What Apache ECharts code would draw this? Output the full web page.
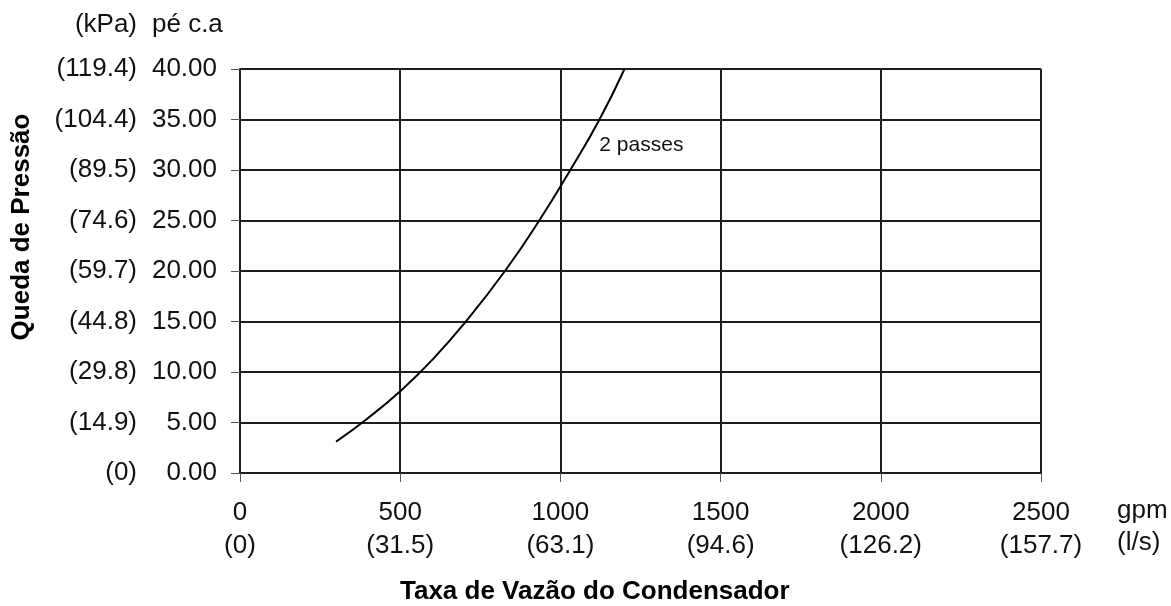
<!DOCTYPE html>
<html>
<head>
<meta charset="utf-8">
<script src="https://cdn.jsdelivr.net/npm/echarts@6/dist/echarts.min.js"></script>
<style>
  html, body { margin: 0; padding: 0; background: #fff; }
  #chart { width: 1171px; height: 606px; }
</style>
</head>
<body>
<div id="chart"></div>
<script>
  // flow (gpm) vs pressure drop (ft of water)
  const flowGpm = [300, 400, 500, 600, 705, 827, 934, 1031, 1122, 1200]
  const dropFt = [3.1, 5.45, 8.1, 11.2, 15.0, 20.0, 25.0, 30.0, 35.0, 40.0]

  const xTicks = [0, 500, 1000, 1500, 2000, 2500]
  const xTicksLs = ['(0)', '(31.5)', '(63.1)', '(94.6)', '(126.2)', '(157.7)']
  const yTicks = [0, 5, 10, 15, 20, 25, 30, 35, 40]
  const yTicksKpa = ['(0)', '(14.9)', '(29.8)', '(44.8)', '(59.7)', '(74.6)', '(89.5)', '(104.4)', '(119.4)']

  const curveName = '2 passes'
  const labelAt = [1120, 32.5]

  const font = 'Liberation Sans, Arial, sans-serif'
  const gridColor = '#1e1e1e'
  const fs = 26

  const chart = echarts.init(document.getElementById('chart'))

  chart.setOption({
    animation: false,
    textStyle: { fontFamily: font },
    grid: { left: 240, right: 130, top: 69, bottom: 133, outerBoundsMode: 'none' },
    xAxis: {
      type: 'value',
      min: 0,
      max: 2500,
      interval: 500,
      axisLine: { show: false },
      axisTick: { show: true, length: 9, lineStyle: { color: '#555', width: 1 } },
      splitLine: { show: true, lineStyle: { color: gridColor, width: 2 } },
      axisLabel: {
        margin: 23,
        fontSize: fs,
        lineHeight: 33,
        color: '#111',
        formatter: function (v) {
          const i = xTicks.indexOf(v)
          return v + '\n' + (i >= 0 ? xTicksLs[i] : '')
        }
      }
    },
    yAxis: [
      {
        type: 'value',
        min: 0,
        max: 40,
        interval: 5,
        axisLine: { show: true, lineStyle: { color: gridColor, width: 2 } },
        axisTick: { show: true, length: 9, lineStyle: { color: '#555', width: 1 } },
        splitLine: { show: true, lineStyle: { color: gridColor, width: 2 } },
        axisLabel: {
          margin: 23,
          fontSize: fs,
          color: '#111',
          formatter: function (v) { return v.toFixed(2) }
        }
      },
      {
        type: 'value',
        position: 'left',
        offset: 80,
        min: 0,
        max: 40,
        interval: 5,
        axisLine: { show: false },
        axisTick: { show: false },
        splitLine: { show: false },
        axisLabel: {
          margin: 23,
          fontSize: fs,
          color: '#111',
          formatter: function (v) {
            const i = yTicks.indexOf(v)
            return i >= 0 ? yTicksKpa[i] : ''
          }
        }
      }
    ],
    graphic: [
      { type: 'text', x: 137, y: 25,
        style: { text: '(kPa)', font: fs + 'px ' + font, fill: '#111', align: 'right', verticalAlign: 'middle' } },
      { type: 'text', x: 152, y: 25,
        style: { text: 'pé c.a', font: fs + 'px ' + font, fill: '#111', align: 'left', verticalAlign: 'middle' } },
      { type: 'text', x: 1117, y: 495,
        style: { text: 'gpm\n(l/s)', font: fs + 'px ' + font, fill: '#111', lineHeight: 32, verticalAlign: 'top' } },
      { type: 'text', x: 400, y: 592,
        style: { text: 'Taxa de Vazão do Condensador', font: 'bold ' + fs + 'px ' + font, fill: '#000', verticalAlign: 'middle' } },
      { type: 'text', x: 22, y: 227, rotation: Math.PI / 2,
        style: { text: 'Queda de Pressão', font: 'bold ' + fs + 'px ' + font, fill: '#000', align: 'center', verticalAlign: 'middle' } }
    ],
    series: [{
      name: curveName,
      type: 'line',
      smooth: true,
      symbol: 'none',
      lineStyle: { color: '#000', width: 2 },
      data: flowGpm.map((x, i) => [x, dropFt[i]]),
      markPoint: {
        symbol: 'circle',
        symbolSize: 1,
        itemStyle: { color: 'transparent' },
        label: {
          show: true,
          position: 'right',
          distance: 0,
          fontSize: 21,
          color: '#111',
          formatter: curveName
        },
        data: [{ coord: labelAt }]
      }
    }]
  })
</script>
</body>
</html>
